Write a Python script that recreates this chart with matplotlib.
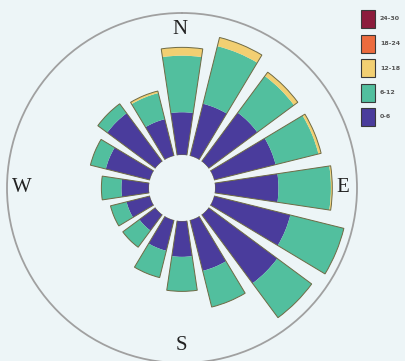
import numpy as np
import matplotlib.pyplot as plt
from matplotlib.patches import Rectangle, Circle

# wind frequency (%) by direction, clockwise from north
directions = ['N', 'NNE', 'NE', 'ENE', 'E', 'ESE', 'SE', 'SSE',
              'S', 'SSW', 'SW', 'WSW', 'W', 'WNW', 'NW', 'NNW']
speed_bins = ['0-6', '6-12', '12-18', '18-24', '24-30']
freq_0_6 = [3.1, 3.9, 4.4, 4.6, 4.6, 5.7, 6.2, 3.8,
            2.6, 2.3, 1.45, 1.75, 2.0, 3.3, 4.35, 2.75]
freq_6_12 = [4.1, 4.3, 3.3, 3.2, 3.8, 4.0, 3.1, 2.7,
             2.5, 2.0, 1.5, 1.2, 1.45, 1.15, 0.85, 1.95]
freq_12_18 = [0.6, 0.65, 0.35, 0.2, 0.1, 0, 0, 0,
              0, 0, 0, 0, 0, 0, 0, 0.15]
freq_18_24 = [0] * 16
freq_24_30 = [0] * 16
bin_colors = ['#4a3c9c', '#52bf9e', '#f2cf72', '#ec6b3e', '#8c1c3c']

W, H = 406, 361
bg = '#edf5f7'
fig = plt.figure(figsize=(W / 100, H / 100), dpi=100)
fig.patch.set_facecolor(bg)

cx, cy, rad = 182, 188, 175
hole_px = 33
ax = fig.add_axes([(cx - rad) / W, (H - cy - rad) / H, 2 * rad / W, 2 * rad / H],
                  projection='polar')
ax.set_facecolor(bg)
ax.set_theta_zero_location('N')
ax.set_theta_direction(-1)

# white centre
ax.add_patch(Circle((0.5, 0.5), hole_px / (2 * rad), transform=ax.transAxes,
                    facecolor='#f7fbfc', edgecolor='none', zorder=0))

theta = np.deg2rad(np.arange(len(directions)) * 22.5)
width = np.deg2rad(17)
series = [freq_0_6, freq_6_12, freq_12_18, freq_18_24, freq_24_30]
bottom = np.zeros(len(directions))
for vals, c in zip(series, bin_colors):
    vals = np.array(vals, dtype=float)
    ax.bar(theta, vals, width=width, bottom=bottom, color=c, linewidth=0)
    bottom += vals
# thin outline round each stacked bar
ax.bar(theta, bottom, width=width, bottom=0, fill=False,
       edgecolor='#6e6a44', linewidth=0.7)

px_per_pct = 13.8
hole = hole_px / px_per_pct
ax.set_rorigin(-hole)
ax.set_ylim(0, (rad - hole_px) / px_per_pct)
ax.set_xticks([])
ax.set_yticks([])
ax.grid(False)
ax.spines['polar'].set_edgecolor('#a0a0a0')
ax.spines['polar'].set_linewidth(1.3)
ax.spines['inner'].set_edgecolor('none')

# compass letters
for lab, (x, y) in zip(['N', 'E', 'S', 'W'],
                       [(180, 29), (343, 187), (181, 346), (22, 188)]):
    fig.text(x / W, 1 - y / H, lab, ha='center', va='center',
             family='Liberation Serif', fontsize=15, color='#222222')

# legend boxes, top = strongest bin
for i, (lab, c) in enumerate(zip(speed_bins[::-1], bin_colors[::-1])):
    top = 10 + i * 24.5
    fig.patches.append(Rectangle((361 / W, 1 - (top + 18) / H), 14 / W, 18 / H,
                                 transform=fig.transFigure, facecolor=c,
                                 edgecolor='#3a3a3a', linewidth=0.8))
    fig.text(380 / W, 1 - (top + 9) / H, lab, ha='left', va='center',
             fontsize=4.5, color='#555555', fontweight='bold')

fig.savefig('out.png', dpi=100, facecolor=bg)
